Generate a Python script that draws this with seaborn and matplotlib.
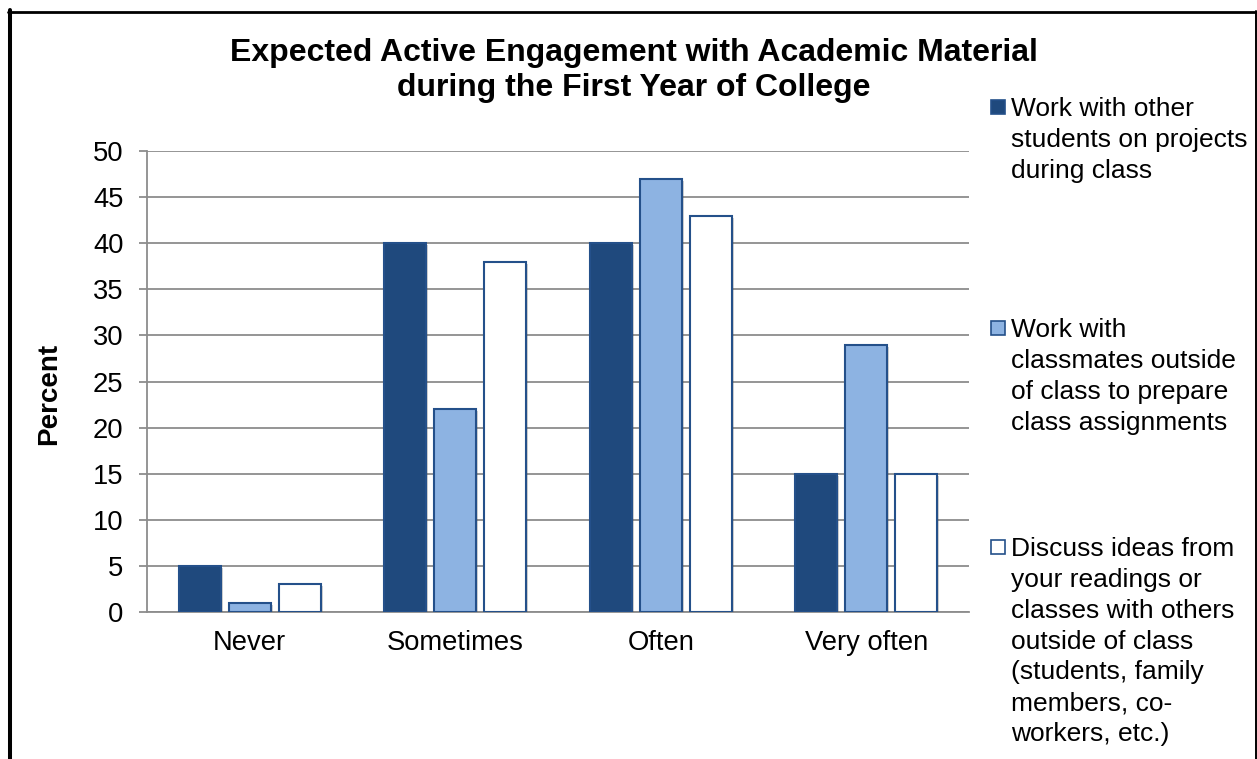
import matplotlib
matplotlib.use("Agg")
import matplotlib.pyplot as plt
import matplotlib.patheffects as pe
from matplotlib.lines import Line2D
from matplotlib.patches import Rectangle
import seaborn as sns
import pandas as pd

# ---- data ----
categories = ["Never", "Sometimes", "Often", "Very often"]
series_names = [
    "Work with other\nstudents on projects\nduring class",
    "Work with\nclassmates outside\nof class to prepare\nclass assignments",
    "Discuss ideas from\nyour readings or\nclasses with others\noutside of class\n(students, family\nmembers, co-\nworkers, etc.)",
]
work_in_class = [5, 40, 40, 15]
work_outside = [1, 22, 47, 29]
discuss_ideas = [3, 38, 43, 15]
y_ticks = [0, 5, 10, 15, 20, 25, 30, 35, 40, 45, 50]
title = "Expected Active Engagement with Academic Material\nduring the First Year of College"
y_label = "Percent"

fill_colors = ["#1F497D", "#8DB3E2", "#FFFFFF"]
edge_color = "#24508A"

rows = []
for name, vals in zip(series_names, [work_in_class, work_outside, discuss_ideas]):
    for cat, v in zip(categories, vals):
        rows.append({"Category": cat, "Series": name, "Percent": v})
df = pd.DataFrame(rows)

sns.set_theme(style="white")
plt.rcParams["font.family"] = ["Liberation Sans", "DejaVu Sans"]

W, H = 1257, 759
fig = plt.figure(figsize=(W / 100, H / 100), dpi=100)
fig.patch.set_facecolor("white")
ax = fig.add_axes([147 / W, 1 - 612 / H, (969 - 147) / W, (612 - 151) / H])

sns.barplot(
    data=df, x="Category", y="Percent", hue="Series", order=categories,
    hue_order=series_names, palette=fill_colors, saturation=1, width=0.73, gap=0.16,
    edgecolor=edge_color, linewidth=1.5, legend=False, ax=ax, zorder=3,
)
for patch in ax.patches:
    patch.set_path_effects([
        pe.SimplePatchShadow(offset=(1.5, -1.5), shadow_rgbFace=(0.3, 0.3, 0.3), alpha=0.25),
        pe.Normal(),
    ])

ax.set_xlim(-0.5, len(categories) - 0.5)
ax.set_ylim(0, 50)
ax.set_yticks(y_ticks)
ax.yaxis.grid(True, color="#8C8C8C", linewidth=1.3)
ax.set_axisbelow(True)

for s in ["top", "right"]:
    ax.spines[s].set_visible(False)
for s in ["left", "bottom"]:
    ax.spines[s].set_color("#8C8C8C")
    ax.spines[s].set_linewidth(1.3)

ax.tick_params(axis="y", which="major", length=6, width=1.3, color="#8C8C8C",
               direction="out", left=True, pad=11, labelsize=19.7, labelcolor="black")
ax.tick_params(axis="x", length=0, pad=13, labelsize=19.7, labelcolor="black")
ax.set_xlabel("")
ax.set_ylabel(y_label, fontsize=20, fontweight="bold", color="black")
ax.yaxis.set_label_coords(-0.119, 0.472)
ax.yaxis.label.set_verticalalignment("center")

# title
fig.text(634 / W, 1 - 38 / H, title, ha="center", va="top", fontsize=23,
         fontweight="bold", color="black", linespacing=1.23, multialignment="center")

# legend (entries placed like the original)
entry_tops = [97, 318, 537]
for name, fc, top in zip(series_names, fill_colors, entry_tops):
    fig.patches.append(Rectangle((991 / W, 1 - (top + 17) / H), 14 / W, 14 / H,
                                 transform=fig.transFigure, facecolor=fc,
                                 edgecolor=edge_color, linewidth=1.2))
    fig.text(1011 / W, 1 - top / H, name, ha="left", va="top", fontsize=19,
             color="black", linespacing=1.36)

# outer frame
fig.add_artist(Line2D([10 / W, 10 / W], [0, 1 - 10 / H], transform=fig.transFigure,
                      color="black", linewidth=2.9))
fig.add_artist(Line2D([8 / W, 1256 / W], [1 - 11.5 / H, 1 - 11.5 / H],
                      transform=fig.transFigure, color="black", linewidth=2.0))
fig.add_artist(Line2D([1255.5 / W, 1255.5 / W], [0, 1 - 10.5 / H],
                      transform=fig.transFigure, color="black", linewidth=1.4))

fig.savefig("out.png", dpi=100)
